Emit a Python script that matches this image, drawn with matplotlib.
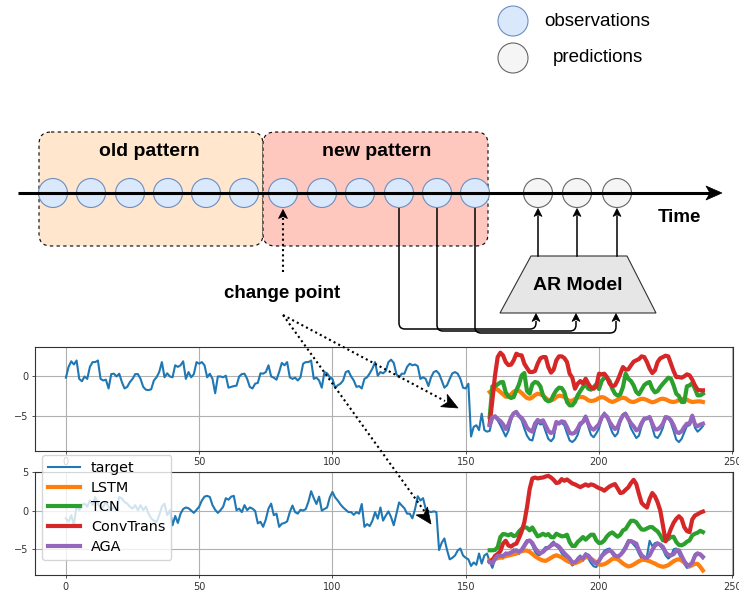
import numpy as np
import matplotlib
matplotlib.use('Agg')
import matplotlib.pyplot as plt
from matplotlib.patches import Circle, FancyBboxPatch, Polygon, PathPatch
from matplotlib.path import Path

#%% datos

# panel superior: serie observada t = 0..239
target_sup = [-0.25, 1.1, 1.8, 1.4, 1.9, -0.4, -0.7, -0.1, -0.4, 1.1, 1.7, 1.7, 1.9, -0.4, -0.6, -0.5,
              -1.6, 0.2, 0.25, -0.1, 0.25, -0.8, -1.6, -1.4, -0.8, -0.4, 0.2, 0.2, -0.4, -1.4, -1.75,
              -1.8, -1.7, -0.6, -0.2, 0.45, 1.7, -0.2, 0.3, -0.1, -0.2, 1.3, 1.1, 1.3, 1.8, -0.4, 0.45,
              -0.2, 0.2, 1.7, 1.5, 1.7, 1.3, -0.2, 0.25, -0.4, -2.2, -0.1, -0.1, -0.2, 0.0, -1.5, -1.4,
              -1.3, -1.25, -0.1, 0.2, 0.25, -0.4, -1.4, -1.6, -1.0, -0.9, 0.3, 0.25, 0.45, 1.3, -0.1,
              -0.25, -0.5, 0.45,
              1.6, 1.3, 1.7, -0.2, -0.4, -0.25, -0.6, -0.2, 1.5, 1.7, 1.7, 1.9, -0.4, -0.25, -0.6,
              -1.5, 0.45, 0.3, -0.2, -0.4, -1.5, -1.2, -1.0, -0.6, 0.45, 0.6, -0.1, -0.6, -1.4, -1.3,
              -1.6, -0.4, -0.2, 0.3, 0.9, 1.7, 0.0, 0.45, 0.3, 0.6, 1.7, 2.0, 1.6, 0.2, -0.2, 0.25,
              0.25, 1.1, 1.5, 1.3, 1.4, 1.2, -0.4, -0.2, -0.4, -1.3, -0.2, 0.45, 0.6, 0.25, -0.6, -1.5,
              -1.2, -0.4, 0.3, 0.45, 0.25, -0.4, -1.5, -1.6, -1.0, -7.6, -6.4, -6.2, -6.8, -4.75, -6.8,
              -7.0, -6.9,
              -5.4, -5.0, -5.6, -6.2, -6.9, -7.6, -6.9, -5.6, -4.6, -4.4, -5.1, -5.6, -6.6, -7.5, -8.0,
              -8.1, -6.8, -5.8, -6.1, -6.0, -7.0, -7.9, -8.2, -7.8, -6.0, -6.1, -5.9, -6.2, -7.2, -8.1,
              -8.3, -8.0, -7.4, -6.3, -5.9, -5.0, -6.4, -7.4, -7.7, -7.2, -6.6, -5.4, -4.6, -5.1, -6.2,
              -7.1, -7.6, -7.2, -5.8, -4.8, -4.6, -5.6, -6.6, -7.2, -7.8, -7.5, -6.3, -5.5, -5.4, -5.1,
              -6.5, -7.6, -7.8, -7.3, -6.5, -5.1, -5.3, -5.9, -6.9, -8.0, -8.3, -7.9, -7.1, -6.3, -6.2,
              -4.9, -6.5, -7.0, -6.7, -6.3]

# predicciones panel superior, t = 159..239
lstm_sup = [-2.04, -1.79, -1.63, -1.75, -2.04, -2.33, -2.63, -2.63, -2.33, -2.0,
            -1.83, -1.88, -2.17, -2.5, -2.79, -2.88, -2.71, -2.42, -2.25, -2.33,
            -2.46, -2.79, -3.04, -3.08, -2.96, -2.67, -2.5, -2.54, -2.67, -2.96,
            -3.17, -3.12, -2.92, -2.75, -2.67, -2.67, -2.83, -3.08, -3.17, -3.12,
            -3.0, -2.79, -2.67, -2.75, -2.96, -3.17, -3.29, -3.17, -3.0, -2.83,
            -2.75, -2.83, -3.08, -3.25, -3.29, -3.17, -3.0, -2.88, -2.92, -3.04,
            -3.21, -3.33, -3.25, -3.08, -2.92, -2.88, -2.96, -3.12, -3.25, -3.29,
            -3.21, -3.04, -2.92, -2.92, -3.0, -3.17, -3.29, -3.25, -3.21, -3.21, -3.29]
tcn_sup = [-5.17, -1.33, -1.33, -1.08, -0.83, -0.79, -2.08, -2.58, -2.79, -2.67,
           -1.83, -1.08, 0.04, 0.33, -1.92, -2.25, -1.08, -0.79, -0.88, -1.33,
           -2.46, -3.0, -3.21, -3.08, -2.38, -1.83, -1.5, -1.54, -2.04, -3.29,
           -3.71, -3.71, -3.29, -2.46, -1.92, -1.42, -1.08, -1.63, -1.75, -1.42,
           -1.08, -1.67, -0.67, -0.25, -0.29, -0.67, -1.63, -2.25, -2.5, -2.33,
           -1.42, 0.25, -0.38, -0.67, -1.21, -2.04, -2.33, -1.75, -1.17, -0.92,
           -0.79, -1.63, -2.08, -1.92, -1.42, -1.0, -0.63, -0.25, -0.38, -1.21,
           -2.25, -2.54, -3.29, -3.29, -1.33, -1.21, -0.92, -1.63, -2.46, -2.46, -2.25]
conv_sup = [-6.0, -3.08, 0.04, 2.33, 2.88, 2.54, 1.71, 1.33, 1.38, 1.92,
            2.75, 2.58, 2.54, 1.5, 0.96, 0.46, 0.46, 0.58, 1.5, 2.17,
            2.33, 2.33, 1.08, 0.38, 0.75, 1.92, 2.42, 2.42, 2.21, 1.71,
            0.25, -0.25, -1.63, -1.0, -0.67, -1.0, -0.38, -1.0, -1.5, -1.63,
            -1.33, 0.25, 0.17, 0.25, -0.17, -1.0, -1.33, -1.21, -0.58, 0.25,
            1.08, 0.75, 0.79, 1.29, 1.75, 1.92, 2.08, 2.42, 2.33, 1.71,
            0.88, 0.33, 0.67, 1.71, 2.17, 2.33, 2.5, 2.42, 1.5, 0.58,
            -0.17, -0.17, -0.25, -0.08, 0.17, 0.04, -0.5, -1.21, -1.75, -1.83, -1.83]
aga_sup = [-6.21, -5.21, -5.08, -5.42, -5.67, -6.08, -6.67, -6.17, -5.25, -4.71,
           -4.54, -5.04, -5.29, -5.79, -6.5, -6.83, -7.0, -6.0, -5.54, -5.75,
           -5.58, -6.25, -6.92, -7.17, -7.0, -5.79, -5.96, -5.71, -5.79, -6.42,
           -7.17, -7.25, -7.12, -6.62, -5.96, -5.79, -5.12, -6.0, -6.58, -6.75,
           -6.42, -6.08, -5.25, -4.83, -5.12, -5.79, -6.29, -6.67, -6.42, -5.58,
           -4.96, -4.79, -5.42, -5.96, -6.33, -6.83, -6.67, -5.92, -5.38, -5.33,
           -5.17, -6.0, -6.71, -6.71, -6.46, -6.0, -5.17, -5.25, -5.58, -6.21,
           -7.04, -7.17, -6.96, -6.42, -6.0, -6.0, -5.0, -6.08, -6.33, -6.12, -6.0]

# panel inferior: serie observada t = 0..239
target_inf = [-1.0, -1.45, -0.6, -1.9, 0.7, 0.05, 0.7, 0.9, 0.5, 1.3, 0.7, 1.75, 0.9, 0.25, 0.5,
              1.1, 0.5, 0.05, 0.5, 0.05, 1.75, 1.55, 1.1, 0.9, 0.5, 0.25, 0.7, 0.05, 0.7, 0.05, 0.5,
              -0.4, -1.0, -1.3, -1.5, -0.6, 0.5, 0.9, -0.6, 0.05, -1.9,
              -0.7, -1.6, -0.4, 0.2, 0.4, 0.3, 0.0, -0.3, 0.1,
              0.5, 1.3, 1.8, 1.9, 1.75, 0.7, 0.1, -0.3, 0.05, 0.5, 1.6, 1.4, 1.8, 1.9, 0.05, 0.25,
              -0.2, 0.7, 0.05, 0.4, 0.25, -0.05, -1.65, -1.45, -2.1, -1.15, 0.25, 0.9, -0.6, -0.4,
              -2.1, -1.7, -1.6, -1.4, -0.2, 0.65, -0.2, -0.4, 0.1, 0.0,
              0.2, 1.15, 2.5, 1.6, 0.85, 1.8, 0.0, 0.2, 0.4, 1.7,
              2.4, 1.7, 1.3, 0.8, 0.4, 0.1, -0.2, -0.2, -0.55, -0.2,
              -0.4, 0.85, -2.1, -1.75, -2.0, -1.3, -0.2, -1.05, 0.4, -1.3,
              -0.65, -0.1, -0.85, -1.9, -0.4, 1.05, 0.65, 0.3, -0.4, -0.4,
              -1.0, 0.2, 1.85, 1.3, 1.6, 0.2, -0.1, -0.2, -0.1, -0.2,
              -5.1, -4.15, -3.6, -5.1, -6.3, -6.1, -5.8, -5.15, -4.9, -5.8,
              -6.1, -6.3, -7.15, -6.7, -7.0, -5.55, -6.85, -5.8, -5.55, -6.6,
              -7.4, -6.3, -5.6, -6.1, -6.2, -5.4, -5.8, -5.6, -5.0, -5.4, -5.6, -4.9, -4.3, -3.8,
              -3.9, -4.5, -5.3, -5.8, -5.7, -5.1, -4.7, -4.9, -4.3, -4.0, -4.6, -4.9, -5.5, -6.0,
              -6.3, -6.6, -7.1, -6.8, -6.1, -5.8, -6.5, -5.5, -6.2, -6.8, -7.2, -7.3, -6.6, -5.7,
              -5.2, -5.0, -4.9, -5.6, -6.2, -6.3, -5.8, -5.1, -4.5, -3.8, -4.0, -4.4, -4.8, -5.6,
              -6.2, -6.4, -5.9, -3.9, -4.6, -4.2, -4.1, -4.6, -5.0, -5.8, -6.2, -5.9, -5.0, -4.9,
              -5.6, -6.3, -6.9, -7.4, -7.3, -6.6, -5.6, -5.4, -5.8, -6.2]

lstm_inf = [-6.41, -6.32, -6.24, -6.15, -6.07, -5.98, -5.9, -5.81, -5.73, -5.64,
            -5.56, -5.38, -5.26, -5.17, -5.17, -5.34, -5.6, -5.9, -6.11, -6.32,
            -6.45, -6.5, -6.32, -6.11, -5.9, -5.77, -5.9, -6.03, -6.28, -6.5,
            -6.67, -6.8, -6.8, -6.67, -6.5, -6.24, -6.03, -5.98, -6.2, -6.45,
            -6.67, -6.97, -7.01, -6.92, -6.75, -6.5, -6.24, -6.2, -6.28, -6.54,
            -6.84, -7.05, -7.22, -7.14, -6.97, -6.75, -6.54, -6.37, -6.37, -6.45,
            -6.54, -6.71, -6.84, -7.05, -7.18, -7.26, -7.18, -7.05, -6.8, -6.54,
            -6.37, -6.28, -6.45, -6.71, -6.97, -7.22, -7.05, -6.88, -6.88, -7.26, -7.74]
tcn_inf = [-5.13, -5.13, -5.09, -4.74, -3.42, -3.03, -3.08, -3.2, -3.03, -3.29,
           -3.2, -2.69, -2.35, -2.14, -2.22, -2.56, -2.18, -2.78, -3.33, -3.2,
           -2.99, -3.2, -3.03, -3.42, -3.46, -2.99, -3.16, -3.33, -3.29, -3.12,
           -4.06, -4.57, -4.57, -4.06, -3.76, -3.42, -3.76, -3.42, -3.12, -3.12,
           -3.85, -4.19, -4.15, -3.85, -3.33, -2.99, -2.82, -3.12, -3.38, -3.12,
           -2.56, -2.39, -1.84, -1.32, -1.32, -1.5, -2.01, -2.44, -2.48, -2.31,
           -2.14, -2.14, -2.44, -2.69, -3.2, -3.85, -3.85, -3.68, -3.42, -3.38,
           -4.06, -4.44, -4.49, -4.32, -4.02, -3.85, -3.2, -2.99, -2.86, -2.61, -2.78]
conv_inf = [-6.6, -6.45, -5.85, -5.6, -5.25, -4.27, -3.9, -4.5, -4.65, -4.4,
            -4.27, -3.55, -2.7, -1.5, 0.43, 2.78, 4.15, 4.27, 4.15, 4.23,
            4.27, 4.4, 4.49, 4.27, 3.97, 3.55, 3.63, 4.06, 3.85, 4.02,
            3.76, 3.5, 3.38, 3.2, 3.03, 3.2, 3.38, 3.2, 3.38, 3.29,
            3.08, 2.9, 2.78, 2.56, 2.86, 3.12, 3.29, 3.42, 2.86, 2.26,
            2.35, 2.69, 2.99, 3.55, 3.97, 3.42, 2.14, 0.98, 0.64, 0.38,
            1.5, 2.26, 1.84, 1.07, 0.0, -1.92, -3.97, -3.29, -2.35, -1.58,
            -1.07, -0.73, -1.07, -2.14, -2.65, -2.78, -1.15, -0.64, -0.47, -0.26, -0.13]
aga_inf = [-6.62, -6.8, -6.24, -5.85, -5.85, -5.85, -5.6, -5.56, -5.43, -5.21,
           -5.13, -5.3, -5.09, -4.57, -4.02, -3.85, -4.19, -4.83, -5.3, -5.51,
           -5.34, -4.99, -4.79, -4.53, -4.32, -4.44, -4.66, -5.09, -5.51, -5.85,
           -6.2, -6.71, -6.67, -6.37, -6.03, -6.2, -5.68, -5.81, -6.28, -6.67,
           -6.84, -6.5, -5.9, -5.56, -5.3, -5.13, -5.38, -5.81, -5.94, -5.73,
           -5.34, -4.83, -4.06, -3.93, -4.1, -4.27, -5.17, -5.77, -6.07, -6.11,
           -5.77, -5.09, -4.53, -4.27, -4.4, -4.7, -5.38, -5.73, -5.77, -5.64,
           -5.13, -5.13, -5.85, -6.54, -7.05, -7.05, -6.71, -5.85, -5.56, -5.64, -5.98]

modelos = ['LSTM', 'TCN', 'ConvTrans', 'AGA']
colores = ['C1', 'C2', 'C3', 'C4']
inicio_pred = 159

#%% figura
fig = plt.figure(figsize=(7.39, 5.94), dpi=100)
ax1 = fig.add_axes([35/739, 1 - 450.7/594, 698.3/739, 103.4/594])
ax2 = fig.add_axes([35/739, 1 - 575.3/594, 698.3/739, 103.6/594])

paneles = [(ax1, target_sup, [lstm_sup, tcn_sup, conv_sup, aga_sup], (-9.38, 3.55), [-5, 0]),
           (ax2, target_inf, [lstm_inf, tcn_inf, conv_inf, aga_inf], (-8.36, 5.02), [-5, 0, 5])]

for ax, obs, preds, lims, yt in paneles:
    ax.plot(np.arange(len(obs)), obs, color='C0', lw=1.5, label='target')
    for nombre, col, p in zip(modelos, colores, preds):
        ax.plot(np.arange(inicio_pred, inicio_pred + len(p)), p, color=col, lw=3, label=nombre)
    ax.grid(True, color='#b0b0b0', lw=0.8)
    ax.set_xlim(-11.6, 250.4)
    ax.set_ylim(lims)
    ax.set_xticks([0, 50, 100, 150, 200, 250])
    ax.set_yticks(yt)
    ax.tick_params(labelsize=7, length=2.5, width=0.6, color='#333333', labelcolor='#333333', pad=2)
    for s in ax.spines.values():
        s.set_color('#333333')
        s.set_linewidth(0.8)

ax2.legend(loc='upper left', bbox_to_anchor=(42/739, 1 - 455/594), bbox_transform=fig.transFigure,
           borderaxespad=0, fontsize=10.4, handlelength=2.2, labelspacing=0.4)

#%% esquema de arriba (coordenadas en pixeles)
axd = fig.add_axes([0, 0, 1, 1])
axd.set_xlim(0, 739)
axd.set_ylim(594, 0)
axd.axis('off')
axd.set_zorder(5)

fuente = 'Liberation Sans'


def punta(x, y, dx, dy, L=9, W=4.5, n=2.5):
    d = np.array([dx, dy], dtype=float)
    d = d / np.hypot(*d)
    p = np.array([-d[1], d[0]])
    tip = np.array([x, y], dtype=float)
    pts = [tip, tip - L*d + W*p, tip - (L - n)*d, tip - L*d - W*p]
    axd.add_patch(Polygon(pts, closed=True, fc='black', ec='black', lw=0.5, zorder=8))


# leyenda de circulos
axd.add_patch(Circle((513, 21), 15, fc='#DAE8FC', ec='#6C8EBF', lw=0.8))
axd.add_patch(Circle((513, 58), 15, fc='#F5F5F5', ec='#666666', lw=0.8))
axd.text(544, 21, 'observations', fontsize=13.5, family=fuente, va='center')
axd.text(553, 58, 'predictions', fontsize=13.5, family=fuente, va='center')

# cajas de patrones
axd.add_patch(FancyBboxPatch((39, 132), 224, 114, boxstyle='round,pad=0,rounding_size=12',
                             fc='#FFE6CC', ec='black', lw=0.8, ls=(0, (3, 3)), zorder=1))
axd.add_patch(FancyBboxPatch((263, 132), 225, 114, boxstyle='round,pad=0,rounding_size=12',
                             fc='#FFC8BE', ec='black', lw=0.8, ls=(0, (3, 3)), zorder=1))
axd.text(149, 152, 'old pattern', fontsize=14, weight='bold', family=fuente, ha='center', va='center')
axd.text(377, 152, 'new pattern', fontsize=14, weight='bold', family=fuente, ha='center', va='center')

# eje de tiempo
x_obs = [53, 91, 130, 168, 206, 244, 283, 322, 360, 399, 437, 475]
x_pred = [538, 577, 617]
for x in x_obs:
    axd.add_patch(Circle((x, 193), 14.5, fc='#DAE8FC', ec='#6C8EBF', lw=0.8, zorder=3))
for x in x_pred:
    axd.add_patch(Circle((x, 193), 14.5, fc='#F5F5F5', ec='#666666', lw=0.8, zorder=3))
axd.plot([18, 710], [193, 193], color='black', lw=2.2, zorder=4, solid_capstyle='butt')
punta(722, 193, 1, 0, L=16, W=7, n=4)
axd.text(679, 218, 'Time', fontsize=13.5, weight='bold', family=fuente, ha='center', va='center')

# modelo AR
axd.add_patch(Polygon([(531, 256), (627, 256), (656, 313), (500, 313)], closed=True,
                      fc='#E6E6E6', ec='#333333', lw=0.8, zorder=2))
axd.text(578, 285, 'AR Model', fontsize=14, weight='bold', family=fuente, ha='center', va='center')
for x in x_pred:
    axd.plot([x, x], [256, 216], color='black', lw=1.1)
    punta(x, 208.5, 0, -1, L=8, W=4, n=2)

r = 6
for xs, xe, yh in zip(x_obs[-3:], [536, 576, 616], [329, 331, 333]):
    verts = [(xs, 208), (xs, yh - r), (xs, yh), (xs + r, yh), (xe - r, yh), (xe, yh), (xe, yh - r), (xe, 321)]
    codes = [Path.MOVETO, Path.LINETO, Path.CURVE3, Path.CURVE3, Path.LINETO, Path.CURVE3, Path.CURVE3, Path.LINETO]
    axd.add_patch(PathPatch(Path(verts, codes), fc='none', ec='black', lw=1.1))
    punta(xe, 313.5, 0, -1, L=8, W=4, n=2)

# punto de cambio
punteado = (0, (1, 1.5))
axd.plot([283, 283], [272, 218], color='black', lw=1.5, ls=punteado)
punta(283, 209.5, 0, -1, L=9, W=4.5, n=2)
axd.text(282, 294, 'change point', fontsize=13.5, weight='bold', family=fuente, ha='center', va='center')
axd.plot([283, 445], [315, 401], color='black', lw=1.5, ls=punteado)
punta(458, 408, 458 - 283, 408 - 315, L=16, W=7, n=4)
axd.plot([283, 425], [315, 512], color='black', lw=1.5, ls=punteado)
punta(431, 524, 431 - 283, 524 - 315, L=16, W=7, n=4)

fig.savefig('out.png', dpi=100)
